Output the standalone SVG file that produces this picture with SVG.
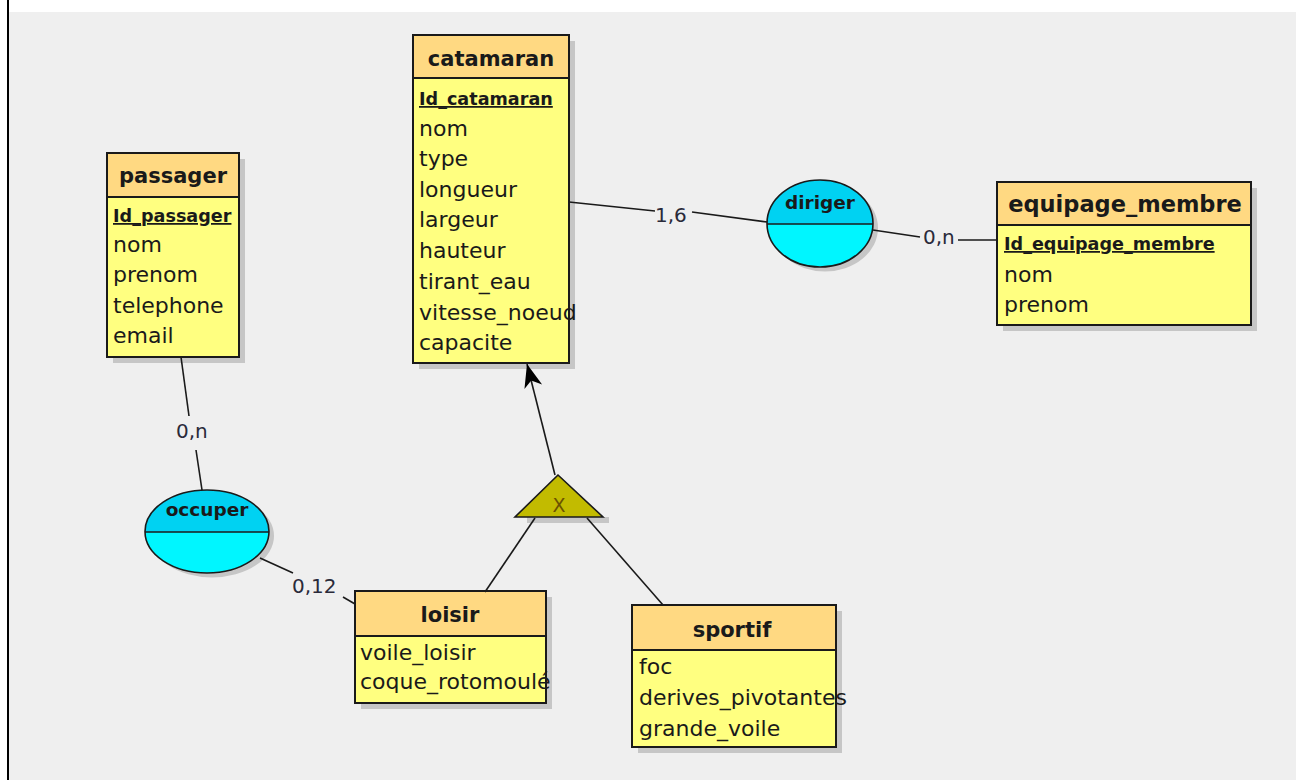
<svg xmlns="http://www.w3.org/2000/svg" width="1298" height="780" viewBox="0 0 1298 780">
<style>
.hdr{fill:#ffd982;stroke:#1a1a1a;stroke-width:2}
.body{fill:#ffff80;stroke:#1a1a1a;stroke-width:2}
.shadow{fill:#c6c6c6}
.t{font-family:"DejaVu Sans",sans-serif;font-size:22px;fill:#1a1a1a}
.th{font-family:"DejaVu Sans",sans-serif;font-size:21px;font-weight:bold;fill:#1a1a1a;text-anchor:middle}
.tid{font-family:"DejaVu Sans",sans-serif;font-size:17.6px;font-weight:bold;fill:#1a1a1a;text-decoration:underline}
.te{font-family:"DejaVu Sans",sans-serif;font-size:18.5px;font-weight:bold;fill:#1a1a1a;text-anchor:middle}
.card{font-family:"DejaVu Sans",sans-serif;font-size:20px;fill:#2a2a3a}
.ln{stroke:#1a1a1a;stroke-width:1.6;fill:none}
.etop{fill:#00d2f2}
.ebot{fill:#00f6ff}
.eout{fill:none;stroke:#1a1a1a;stroke-width:1.6}
</style>
<defs>
<marker id="arr" markerUnits="userSpaceOnUse" markerWidth="30" markerHeight="30" viewBox="-24 -12 28 24" refX="0" refY="0" orient="auto">
<path d="M0,0 L-22,-8 L-16,0 L-22,9 Z" fill="#000"/>
</marker>
<clipPath id="ctopD"><rect x="760" y="170" width="120" height="54"/></clipPath>
<clipPath id="ctopO"><rect x="140" y="480" width="135" height="52"/></clipPath>
</defs>
<rect x="0" y="0" width="1298" height="780" fill="#ffffff"/>
<rect x="9" y="12" width="1287" height="768" fill="#efefef"/>
<line x1="8" y1="0" x2="8" y2="780" stroke="#000" stroke-width="2"/>

<g id="catamaran">
<rect class="shadow" x="419" y="41" width="156" height="328"/>
<rect class="body" x="413" y="35" width="156" height="328"/>
<rect class="hdr" x="413" y="35" width="156" height="43"/>
<text class="th" x="491" y="66">catamaran</text>
<text class="tid" x="419" y="105">Id_catamaran</text>
<text class="t" x="419" y="136">nom</text>
<text class="t" x="419" y="166">type</text>
<text class="t" x="419" y="197">longueur</text>
<text class="t" x="419" y="227">largeur</text>
<text class="t" x="419" y="258">hauteur</text>
<text class="t" x="419" y="289">tirant_eau</text>
<text class="t" x="419" y="320">vitesse_noeud</text>
<text class="t" x="419" y="350">capacite</text>
</g>

<g id="passager">
<rect class="shadow" x="113" y="159" width="132" height="204"/>
<rect class="body" x="107" y="153" width="132" height="204"/>
<rect class="hdr" x="107" y="153" width="132" height="44"/>
<text class="th" x="173" y="183">passager</text>
<text class="tid" x="113" y="222">Id_passager</text>
<text class="t" x="113" y="252">nom</text>
<text class="t" x="113" y="282">prenom</text>
<text class="t" x="113" y="313">telephone</text>
<text class="t" x="113" y="343">email</text>
</g>

<g id="equipage_membre">
<rect class="shadow" x="1003" y="188" width="254" height="143"/>
<rect class="body" x="997" y="182" width="254" height="143"/>
<rect class="hdr" x="997" y="182" width="254" height="43"/>
<text class="th" x="1125" y="212" style="font-size:22.5px">equipage_membre</text>
<text class="tid" x="1004" y="250">Id_equipage_membre</text>
<text class="t" x="1004" y="282">nom</text>
<text class="t" x="1004" y="312">prenom</text>
</g>

<g id="diriger">
<ellipse class="shadow" cx="825" cy="228" rx="53" ry="43.5"/>
<ellipse class="ebot" cx="820" cy="223.5" rx="53" ry="43.5"/>
<ellipse class="etop" cx="820" cy="223.5" rx="53" ry="43.5" clip-path="url(#ctopD)"/>
<line class="ln" x1="767" y1="224" x2="873" y2="224"/>
<ellipse class="eout" cx="820" cy="223.5" rx="53" ry="43.5"/>
<text class="te" x="820" y="209">diriger</text>
</g>

<g id="occuper">
<ellipse class="shadow" cx="212" cy="536" rx="62" ry="41.5"/>
<ellipse class="ebot" cx="207" cy="531.5" rx="62" ry="41.5"/>
<ellipse class="etop" cx="207" cy="531.5" rx="62" ry="41.5" clip-path="url(#ctopO)"/>
<line class="ln" x1="145" y1="532" x2="269" y2="532"/>
<ellipse class="eout" cx="207" cy="531.5" rx="62" ry="41.5"/>
<text class="te" x="207" y="516">occuper</text>
</g>

<g id="heritage">
<rect class="shadow" x="527" y="517" width="82" height="6"/>
<polygon points="558,475 515,517 603,517" fill="#c2bb00" stroke="#1a1a1a" stroke-width="1.6"/>
<text x="559" y="512" style="font-family:'DejaVu Sans',sans-serif;font-size:19px;fill:#6b5200;text-anchor:middle">X</text>
</g>

<g id="loisir">
<rect class="shadow" x="361" y="597" width="191" height="112"/>
<rect class="body" x="355" y="591" width="191" height="112"/>
<rect class="hdr" x="355" y="591" width="191" height="45"/>
<text class="th" x="450" y="622">loisir</text>
<text class="t" x="360" y="660">voile_loisir</text>
<text class="t" x="360" y="689">coque_rotomoulé</text>
</g>

<g id="sportif">
<rect class="shadow" x="638" y="611" width="204" height="142"/>
<rect class="body" x="632" y="605" width="204" height="142"/>
<rect class="hdr" x="632" y="605" width="204" height="45"/>
<text class="th" x="732" y="637">sportif</text>
<text class="t" x="639" y="674">foc</text>
<text class="t" x="639" y="705">derives_pivotantes</text>
<text class="t" x="639" y="736">grande_voile</text>
</g>

<g id="connectors">
<line class="ln" x1="569" y1="202" x2="655" y2="211"/>
<line class="ln" x1="692" y1="212" x2="767" y2="222"/>
<text class="card" x="655" y="222">1,6</text>
<line class="ln" x1="873" y1="230" x2="920" y2="237"/>
<line class="ln" x1="958" y1="240" x2="997" y2="240"/>
<text class="card" x="923" y="244">0,n</text>
<line class="ln" x1="181" y1="357" x2="189" y2="416"/>
<line class="ln" x1="196" y1="450" x2="202" y2="490"/>
<text class="card" x="176" y="438">0,n</text>
<line class="ln" x1="260" y1="558" x2="293" y2="573"/>
<line class="ln" x1="343" y1="597" x2="355" y2="604"/>
<text class="card" x="292" y="593">0,12</text>
<line class="ln" x1="555" y1="475" x2="527" y2="364" marker-end="url(#arr)"/>
<line class="ln" x1="535" y1="518" x2="485" y2="592"/>
<line class="ln" x1="587" y1="518" x2="663" y2="605"/>
</g>
</svg>
